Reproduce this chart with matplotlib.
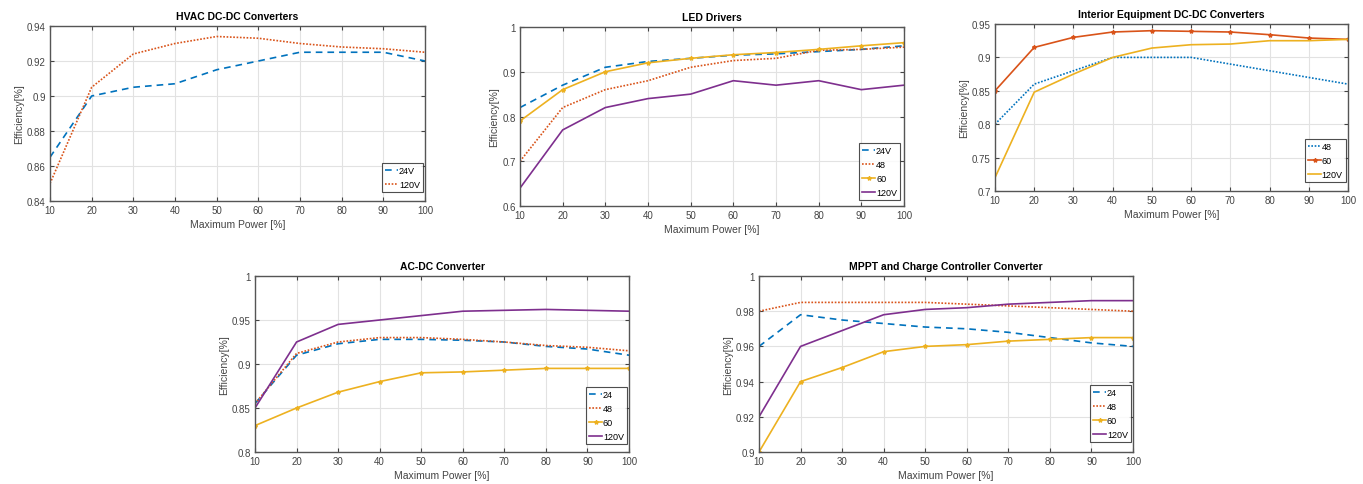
import numpy as np  # arrays
import matplotlib
matplotlib.use("Agg")
import matplotlib.pyplot as plt  # plot

plt.rcParams["font.family"] = ["Liberation Sans", "DejaVu Sans"]

# eixo x comum
potencia = [10, 20, 30, 40, 50, 60, 70, 80, 90, 100]

# HVAC DC-DC
hvac_24 = [0.865, 0.900, 0.905, 0.907, 0.915, 0.920, 0.925, 0.925, 0.925, 0.920]
hvac_120 = [0.850, 0.905, 0.924, 0.930, 0.934, 0.933, 0.930, 0.928, 0.927, 0.925]

# LED drivers
led_24 = [0.820, 0.870, 0.910, 0.923, 0.930, 0.937, 0.940, 0.945, 0.950, 0.958]
led_48 = [0.700, 0.820, 0.860, 0.880, 0.910, 0.925, 0.930, 0.948, 0.950, 0.955]
led_60 = [0.790, 0.860, 0.900, 0.920, 0.930, 0.938, 0.943, 0.950, 0.958, 0.965]
led_120 = [0.640, 0.770, 0.820, 0.840, 0.850, 0.880, 0.870, 0.880, 0.860, 0.870]

# Interior equipment DC-DC
int_48 = [0.800, 0.860, 0.880, 0.900, 0.900, 0.900, 0.890, 0.880, 0.870, 0.860]
int_60 = [0.850, 0.915, 0.930, 0.938, 0.940, 0.939, 0.938, 0.934, 0.929, 0.927]
int_120 = [0.720, 0.848, 0.875, 0.900, 0.914, 0.919, 0.920, 0.925, 0.925, 0.927]

# AC-DC
ac_24 = [0.855, 0.910, 0.923, 0.928, 0.928, 0.927, 0.925, 0.920, 0.917, 0.910]
ac_48 = [0.855, 0.912, 0.925, 0.930, 0.930, 0.928, 0.925, 0.921, 0.919, 0.915]
ac_60 = [0.830, 0.850, 0.868, 0.880, 0.890, 0.891, 0.893, 0.895, 0.895, 0.895]
ac_120 = [0.850, 0.925, 0.945, 0.950, 0.955, 0.960, 0.961, 0.962, 0.961, 0.960]

# MPPT / charge controller
mppt_24 = [0.960, 0.978, 0.975, 0.973, 0.971, 0.970, 0.968, 0.965, 0.962, 0.960]
mppt_48 = [0.980, 0.985, 0.985, 0.985, 0.985, 0.984, 0.983, 0.982, 0.981, 0.980]
mppt_60 = [0.900, 0.940, 0.948, 0.957, 0.960, 0.961, 0.963, 0.964, 0.965, 0.965]
mppt_120 = [0.920, 0.960, 0.969, 0.978, 0.981, 0.982, 0.984, 0.985, 0.986, 0.986]

# cores padrão do MATLAB
azul = "#0072BD"
laranja = "#D95319"
amarelo = "#EDB120"
roxo = "#7E2F8E"

# estilos por tipo de curva
est_24 = dict(color=azul, linestyle=(0, (4, 3)), linewidth=1.2)
est_48 = dict(color=laranja, linestyle=(0, (1, 1)), linewidth=1.2)
est_60 = dict(color=amarelo, linestyle="-", linewidth=1.2, marker="*", markersize=3)
est_120 = dict(color=roxo, linestyle="-", linewidth=1.2)

fig = plt.figure(figsize=(13.63, 4.85), dpi=100)
W, H = 1363.0, 485.0


def eixo(x0, y0, x1, y1):
    # posição em pixels -> fração da figura
    return fig.add_axes([x0 / W, 1 - y1 / H, (x1 - x0) / W, (y1 - y0) / H])


def formata(ax, titulo, ylim, yticks, canto):
    ax.set_xlim(10, 100)
    ax.set_xticks(potencia)
    ax.set_ylim(*ylim)
    ax.set_yticks(yticks)
    ax.set_yticklabels([("%g" % v) for v in yticks])
    ax.grid(True, color="#e2e2e2", linewidth=0.8)
    ax.set_axisbelow(True)
    ax.tick_params(direction="in", top=True, right=True, labelsize=7, colors="#444444", length=3, pad=3)
    for s in ax.spines.values():
        s.set_color("#555555")
        s.set_linewidth(1.0)
    ax.set_title(titulo, fontsize=7.5, fontweight="bold", pad=5)
    ax.set_xlabel("Maximum Power [%]", fontsize=7.5, color="#444444", labelpad=3)
    ax.set_ylabel("Efficiency[%]", fontsize=7.5, color="#444444", labelpad=2)
    leg = ax.legend(loc="lower right", bbox_to_anchor=canto, fontsize=6.5, frameon=True, fancybox=False,
                    handlelength=1.4, handletextpad=0.1, borderpad=0.35, labelspacing=0.55,
                    borderaxespad=0.0)
    leg.get_frame().set_edgecolor("#222222")
    leg.get_frame().set_linewidth(0.8)


ax1 = eixo(50, 27, 425, 202)
ax1.plot(potencia, hvac_24, label="24V", **est_24)
ax1.plot(potencia, hvac_120, label="120V", **est_48)
formata(ax1, "HVAC DC-DC Converters", (0.84, 0.94), [0.84, 0.86, 0.88, 0.90, 0.92, 0.94], (0.995, 0.05))

ax2 = eixo(520, 28, 904, 207)
ax2.plot(potencia, led_24, label="24V", **est_24)
ax2.plot(potencia, led_48, label="48", **est_48)
ax2.plot(potencia, led_60, label="60", **est_60)
ax2.plot(potencia, led_120, label="120V", **est_120)
formata(ax2, "LED Drivers", (0.6, 1.0), [0.6, 0.7, 0.8, 0.9, 1.0], (0.99, 0.034))

ax3 = eixo(995, 25, 1348, 192)
ax3.plot(potencia, int_48, label="48", color=azul, linestyle=(0, (1, 1)), linewidth=1.2)
ax3.plot(potencia, int_60, label="60", color=laranja, linestyle="-", linewidth=1.2, marker="*", markersize=3)
ax3.plot(potencia, int_120, label="120V", color=amarelo, linestyle="-", linewidth=1.2)
formata(ax3, "Interior Equipment DC-DC Converters", (0.7, 0.95), [0.7, 0.75, 0.8, 0.85, 0.9, 0.95], (0.994, 0.054))

ax4 = eixo(255, 277, 629, 453)
ax4.plot(potencia, ac_24, label="24", **est_24)
ax4.plot(potencia, ac_48, label="48", **est_48)
ax4.plot(potencia, ac_60, label="60", **est_60)
ax4.plot(potencia, ac_120, label="120V", **est_120)
formata(ax4, "AC-DC Converter", (0.8, 1.0), [0.8, 0.85, 0.9, 0.95, 1.0], (0.995, 0.045))

ax5 = eixo(759, 277, 1133, 453)
ax5.plot(potencia, mppt_24, label="24", **est_24)
ax5.plot(potencia, mppt_48, label="48", **est_48)
ax5.plot(potencia, mppt_60, label="60", **est_60)
ax5.plot(potencia, mppt_120, label="120V", **est_120)
formata(ax5, "MPPT and Charge Controller Converter", (0.9, 1.0), [0.9, 0.92, 0.94, 0.96, 0.98, 1.0], (0.995, 0.057))

fig.savefig("out.png", dpi=100)
